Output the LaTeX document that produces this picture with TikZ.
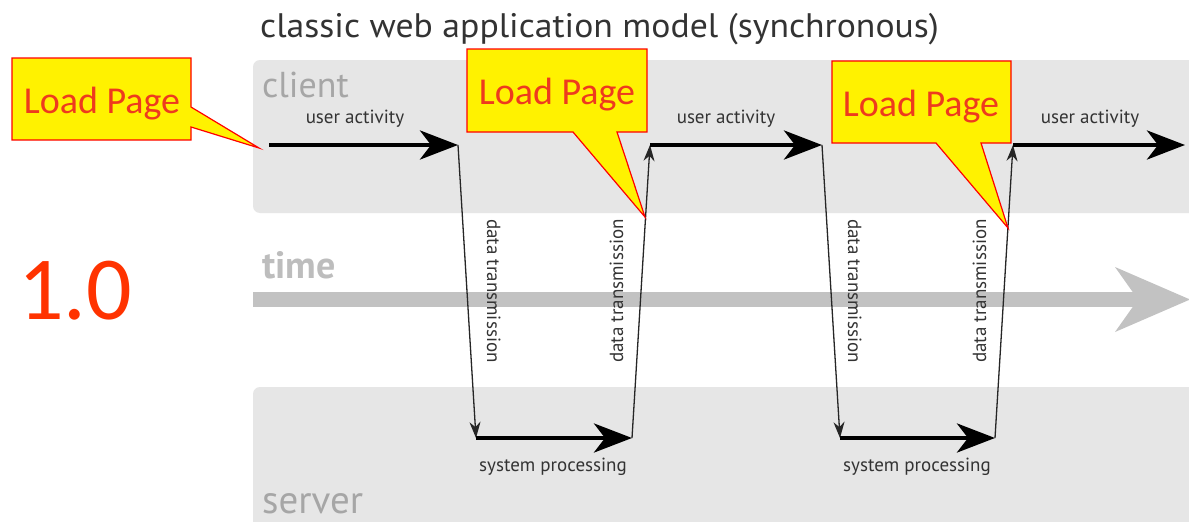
\documentclass[tikz,border=0pt]{standalone}
\usepackage{fontspec}
\setmainfont{PT Sans}
\newfontfamily\callfont{Carlito}
\usetikzlibrary{arrows.meta}
\definecolor{bandgray}{HTML}{E6E6E6}
\definecolor{timegray}{HTML}{C2C2C2}
\definecolor{lblgray}{HTML}{A6A6A6}
\definecolor{timelbl}{HTML}{BDBDBD}
\definecolor{txtdark}{HTML}{333333}
\definecolor{callred}{HTML}{EE3A1E}
\definecolor{bigred}{HTML}{FF3300}
\begin{document}
\begin{tikzpicture}[x=1pt,y=-1pt,
  band/.style={fill=bandgray, draw=none, rounded corners=7pt},
  bigarrow/.style={line width=4.5pt, -{Stealth[length=38pt,width=29pt,inset=11pt]}},
  thinarrow/.style={line width=1.3pt, draw=black!85, -{Stealth[length=16pt,width=11pt,inset=5pt]}},
  smalltxt/.style={font=\fontsize{19}{21}\selectfont, text=txtdark, inner sep=0pt, anchor=base},
  lanetxt/.style={font=\fontsize{36}{40}\selectfont, text=lblgray, inner sep=0pt, anchor=base west},
  callout/.style={fill=yellow, draw=red, line width=1.2pt, line join=miter},
  calltxt/.style={font=\callfont\fontsize{38}{42}\selectfont, text=callred, inner sep=0pt, anchor=base}
]
\useasboundingbox[fill=white] (0,0) rectangle (1189,522);

% lanes
\fill[band] (253,60) rectangle (1205,213);
\fill[band] (253,387) rectangle (1205,535);
\fill[timegray] (253,292) rectangle (1140,307);
\fill[timegray] (1115,267) -- (1190,299.5) -- (1115,332) -- (1138,299.5) -- cycle;

% title and lane labels
\node[font=\fontsize{34}{38}\selectfont, text=txtdark, inner sep=0pt, anchor=base west] (title) at (260,37) {\scalebox{1.05}[1]{classic web application model (synchronous)}};
\node[lanetxt] (client) at (262,97) {client};
\node[lanetxt, text=timelbl, font=\bfseries\fontsize{38}{42}\selectfont] (time) at (262,278) {time};
\node[lanetxt, font=\fontsize{39}{43}\selectfont] (server) at (262,513) {server};

% flow points
\coordinate (c1s) at (269,145);
\coordinate (c1e) at (458,145);
\coordinate (s1s) at (476,438);
\coordinate (s1e) at (632,438);
\coordinate (c2s) at (650,145);
\coordinate (c2e) at (822,145);
\coordinate (s2s) at (840,438);
\coordinate (s2e) at (995,438);
\coordinate (c3s) at (1013,145);
\coordinate (c3e) at (1185,145);

\draw[bigarrow] (c1s) -- (c1e);
\draw[thinarrow] (c1e) -- (s1s);
\draw[bigarrow] (s1s) -- (s1e);
\draw[thinarrow] (s1e) -- (c2s);
\draw[bigarrow] (c2s) -- (c2e);
\draw[thinarrow] (c2e) -- (s2s);
\draw[bigarrow] (s2s) -- (s2e);
\draw[thinarrow] (s2e) -- (c3s);
\draw[bigarrow] (c3s) -- (c3e);

% flow labels
\node[smalltxt] (ua1) at (355,123) {user activity};
\node[smalltxt] (ua2) at (726,123) {user activity};
\node[smalltxt] (ua3) at (1090,123) {user activity};
\node[smalltxt] (sp1) at (553,471) {system processing};
\node[smalltxt] (sp2) at (917,471) {system processing};
\node[smalltxt, rotate=-90] (dt1) at (487,291) {data transmission};
\node[smalltxt, rotate=90] (dt2) at (623,291) {data transmission};
\node[smalltxt, rotate=-90] (dt3) at (848,291) {data transmission};
\node[smalltxt, rotate=90] (dt4) at (986,291) {data transmission};

% callouts
\draw[callout] (12,58) -- (191,58) -- (191,107) -- (259,148) -- (191,127) -- (191,140) -- (12,140) -- cycle;
\draw[callout] (467,49) -- (647,49) -- (647,132) -- (617,132) -- (645,217) -- (573,132) -- (467,132) -- cycle;
\draw[callout] (832,61) -- (1011,61) -- (1011,143) -- (981,143) -- (1008,228) -- (936,143) -- (832,143) -- cycle;
\node[calltxt] (lp1) at (102,113) {Load Page};
\node[calltxt] (lp2) at (557,104) {Load Page};
\node[calltxt] (lp3) at (921,116) {Load Page};

% version
\node[font=\callfont\fontsize{90}{96}\selectfont, text=bigred, inner sep=0pt, anchor=base] (ver) at (75,319) {1.0};
\end{tikzpicture}
\end{document}
